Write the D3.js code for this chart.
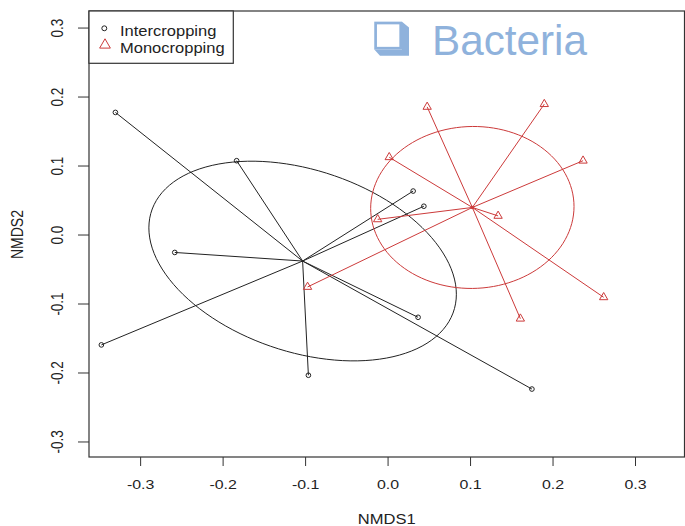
<!DOCTYPE html>
<html>
<head>
<meta charset="utf-8">
<script src="https://cdnjs.cloudflare.com/ajax/libs/d3/7.8.5/d3.min.js"></script>
<style>
body { margin: 0; background: #fff; }
svg { display: block; }
text { font-family: "Liberation Sans", Arial, sans-serif; fill: #222; }
</style>
</head>
<body>
<div id="chart"></div>
<script>
// NMDS scores
var interX = [-0.330, -0.183, -0.258, -0.347, -0.096, 0.031, 0.044, 0.037, 0.175]
var interY = [0.177, 0.107, -0.026, -0.160, -0.204, 0.063, 0.041, -0.120, -0.224]
var monoX = [0.048, 0.190, 0.002, 0.237, -0.012, 0.134, 0.262, 0.161, -0.097]
var monoY = [0.185, 0.189, 0.112, 0.107, 0.022, 0.027, -0.091, -0.122, -0.076]
var groupNames = ['Intercropping', 'Monocropping']
var xTicks = [-0.3, -0.2, -0.1, 0.0, 0.1, 0.2, 0.3]
var yTicks = [-0.3, -0.2, -0.1, 0.0, 0.1, 0.2, 0.3]
var titleText = 'Bacteria'

var width = 685
var height = 526
// (window.top is read-only, so plot edges get their own names)
var plotL = 89, plotR = 684.5, plotT = 11, plotB = 457
var stretch = 1.18   // picture was widened, so is the text
var red = '#cc3a3a'
var ink = '#222'

var x = d3.scaleLinear().domain([-0.362, 0.36]).range([plotL, plotR])
var y = d3.scaleLinear().domain([-0.3225, 0.324]).range([plotB, plotT])

var svg = d3.select('#chart').append('svg')
  .attr('width', width)
  .attr('height', height)

function fmt(d) { return d.toFixed(1) }

// standard deviation ellipse, like ordiellipse(kind = "sd")
function sdEllipse(xs, ys) {
  var n = xs.length
  var mx = d3.mean(xs), my = d3.mean(ys)
  var sxx = 0, syy = 0, sxy = 0
  for (var i = 0; i < n; i++) {
    sxx += (xs[i] - mx) * (xs[i] - mx)
    syy += (ys[i] - my) * (ys[i] - my)
    sxy += (xs[i] - mx) * (ys[i] - my)
  }
  sxx /= n - 1; syy /= n - 1; sxy /= n - 1
  var a = Math.sqrt(sxx), b = sxy / a, c = Math.sqrt(syy - b * b)
  return d3.range(0, 121).map(function(k) {
    var t = 2 * Math.PI * k / 120
    return [mx + a * Math.cos(t), my + b * Math.cos(t) + c * Math.sin(t)]
  })
}

var line = d3.line()
  .x(function(d) { return x(d[0]) })
  .y(function(d) { return y(d[1]) })

function drawGroup(xs, ys, color, shape) {
  var cx = d3.mean(xs), cy = d3.mean(ys)
  var pts = xs.map(function(v, i) { return [v, ys[i]] })

  // spider
  svg.append('g').selectAll('line')
    .data(pts).enter().append('line')
    .attr('x1', x(cx)).attr('y1', y(cy))
    .attr('x2', function(d) { return x(d[0]) })
    .attr('y2', function(d) { return y(d[1]) })
    .attr('stroke', color).attr('stroke-width', 1)

  svg.append('path')
    .datum(sdEllipse(xs, ys))
    .attr('d', line)
    .attr('fill', 'none')
    .attr('stroke', color).attr('stroke-width', 1)

  var g = svg.append('g').selectAll('path')
    .data(pts).enter().append('path')
    .attr('transform', function(d) { return 'translate(' + x(d[0]) + ',' + y(d[1]) + ')' })
    .attr('fill', 'none')
    .attr('stroke', color).attr('stroke-width', 1)
  if (shape == 'circle') {
    g.attr('d', d3.symbol(d3.symbolCircle, 17))
  } else {
    g.attr('d', d3.symbol(d3.symbolTriangle, 30))
  }
  return [cx, cy]
}

drawGroup(interX, interY, ink, 'circle')
var redCentre = drawGroup(monoX, monoY, red, 'triangle')
svg.append('circle')
  .attr('cx', x(redCentre[0])).attr('cy', y(redCentre[1]))
  .attr('r', 1.8).attr('fill', red)

// axes
var xAxis = svg.append('g')
  .attr('transform', 'translate(0,' + plotB + ')')
  .call(d3.axisBottom(x).tickValues(xTicks).tickSize(9).tickSizeOuter(0).tickFormat(fmt))
xAxis.select('.domain').remove()
xAxis.attr('font-family', null).attr('font-size', null).attr('color', '#333')
xAxis.selectAll('text')
  .attr('y', 32).attr('dy', null)
  .attr('font-size', 13.5)
  .attr('transform', 'scale(' + stretch + ',1)')

var yAxis = svg.append('g')
  .attr('transform', 'translate(' + plotL + ',0)')
  .call(d3.axisLeft(y).tickValues(yTicks).tickSize(11).tickSizeOuter(0).tickFormat(fmt))
yAxis.select('.domain').remove()
yAxis.attr('font-family', null).attr('font-size', null).attr('color', '#333')
yAxis.selectAll('text')
  .attr('x', 0).attr('dy', null)
  .attr('text-anchor', 'middle')
  .attr('font-size', 13.5)
  .attr('transform', 'translate(-26,0) scale(' + stretch + ',1) rotate(-90)')

// plot box
svg.append('rect')
  .attr('x', plotL).attr('y', plotT)
  .attr('width', plotR - plotL).attr('height', plotB - plotT)
  .attr('fill', 'none').attr('stroke', '#333').attr('stroke-width', 1.2)

svg.append('text')
  .attr('text-anchor', 'middle').attr('font-size', 14)
  .attr('transform', 'translate(' + (plotL + plotR) / 2 + ',524) scale(' + stretch + ',1)')
  .text('NMDS1')

svg.append('text')
  .attr('text-anchor', 'middle').attr('font-size', 14)
  .attr('transform', 'translate(23,' + y(0) + ') scale(' + stretch + ',1) rotate(-90)')
  .text('NMDS2')

// legend
var legend = svg.append('g')
legend.append('rect')
  .attr('x', plotL).attr('y', plotT)
  .attr('width', 144.3).attr('height', 52.3)
  .attr('fill', '#fff').attr('stroke', '#333').attr('stroke-width', 1.2)
legend.append('path')
  .attr('transform', 'translate(104.3,28.3)')
  .attr('d', d3.symbol(d3.symbolCircle, 19))
  .attr('fill', 'none').attr('stroke', ink)
legend.append('path')
  .attr('transform', 'translate(105,45)')
  .attr('d', d3.symbol(d3.symbolTriangle, 50))
  .attr('fill', 'none').attr('stroke', red)
legend.selectAll('text.lab')
  .data(groupNames).enter().append('text')
  .attr('class', 'lab')
  .attr('font-size', 14)
  .attr('transform', function(d, i) { return 'translate(120,' + (36 + i * 16.7) + ') scale(' + stretch + ',1)' })
  .text(function(d) { return d })

// slide title with its box bullet
var blue = '#8fb2dc'
svg.append('path')
  .attr('d', 'M402,21.7 L409,27.5 L409,55.7 L380,55.7 L374.3,49.5 L402,49.5 Z')
  .attr('fill', blue)
svg.append('rect')
  .attr('x', 375.6).attr('y', 23).attr('width', 25.1).attr('height', 25.2)
  .attr('fill', 'none').attr('stroke', blue).attr('stroke-width', 2.7)
svg.append('text')
  .attr('x', 432).attr('y', 55)
  .attr('font-family', 'Lato, "Open Sans", sans-serif')
  .attr('font-size', 42)
  .attr('textLength', 155).attr('lengthAdjust', 'spacingAndGlyphs')
  .style('fill', blue)
  .text(titleText)
</script>
</body>
</html>
